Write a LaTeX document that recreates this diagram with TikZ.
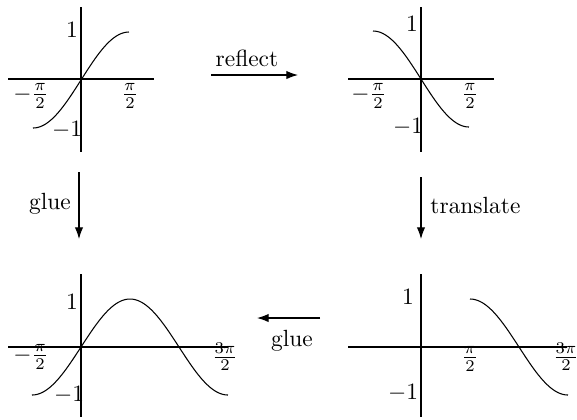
\documentclass[tikz,border=0pt]{standalone}
\usetikzlibrary{arrows.meta}
\begin{document}
\begin{tikzpicture}[x=0.427pt,y=-0.427pt,
  axis/.style={line width=0.45pt},
  curve/.style={line width=0.45pt,smooth,samples=60},
  arr/.style={line width=0.45pt,-{Latex[length=5pt,width=3.6pt]}},
  lab/.style={inner sep=0pt}]
\useasboundingbox (0,0) rectangle (577,419);
% ---------- top-left panel: sin on [-pi/2,pi/2]
\draw[axis] (8,79) -- (154,79);
\draw[axis] (81,7) -- (81,152);
\draw[curve,domain=-1.5708:1.5708] plot ({81+\x*48/1.5708},{80-48*sin(\x r)});
\node[lab] (tl1) at (72,30) {$1$};
\node[lab] (tlm1) at (67,130) {$-1$};
\node[lab] (tlmp) at (31,96) {$-\frac{\pi}{2}$};
\node[lab] (tlp) at (130,96) {$\frac{\pi}{2}$};
% ---------- top-right panel: reflected
\draw[axis] (348,79) -- (494,79);
\draw[axis] (421,7) -- (421,152);
\draw[curve,domain=-1.5708:1.5708] plot ({421+\x*48/1.5708},{79+48*sin(\x r)});
\node[lab] (tr1) at (412,24) {$1$};
\node[lab] (trm1) at (408,127) {$-1$};
\node[lab] (trmp) at (369,96) {$-\frac{\pi}{2}$};
\node[lab] (trp) at (470,96) {$\frac{\pi}{2}$};
% ---------- bottom-left panel: glued
\draw[axis] (8,347) -- (228,347);
\draw[axis] (81,274) -- (81,417);
\draw[curve,domain=-1.5708:4.7124,samples=120] plot ({81+\x*49/1.5708},{347-48*sin(\x r)});
\node[lab] (bl1) at (72,302) {$1$};
\node[lab] (blm1) at (69,395) {$-1$};
\node[lab] (blmp) at (31,357) {$-\frac{\pi}{2}$};
\node[lab] (bl3p) at (225,357) {$\frac{3\pi}{2}$};
% ---------- bottom-right panel: translated
\draw[axis] (348,347) -- (567,347);
\draw[axis] (421,274) -- (421,417);
\draw[curve,domain=1.5708:4.7124] plot ({421+\x*49/1.5708},{347-48*sin(\x r)});
\node[lab] (br1) at (408,297) {$1$};
\node[lab] (brm1) at (403,393) {$-1$};
\node[lab] (brp) at (470,359) {$\frac{\pi}{2}$};
\node[lab] (br3p) at (566,357) {$\frac{3\pi}{2}$};
% ---------- arrows
\coordinate (r1) at (211,75); \coordinate (r2) at (298,75);
\draw[arr] (r1) -- (r2);
\node[lab] (reflect) at (247,58) {reflect};
\coordinate (g1) at (79,172); \coordinate (g2) at (79,239);
\draw[arr] (g1) -- (g2);
\node[lab] (glue1) at (50,204) {glue};
\coordinate (t1) at (421,177); \coordinate (t2) at (421,239);
\draw[arr] (t1) -- (t2);
\node[lab,anchor=west] (translate) at (430,205) {translate};
\coordinate (h1) at (320,318); \coordinate (h2) at (257,318);
\draw[arr] (h1) -- (h2);
\node[lab] (glue2) at (292,341) {glue};
\end{tikzpicture}
\end{document}
